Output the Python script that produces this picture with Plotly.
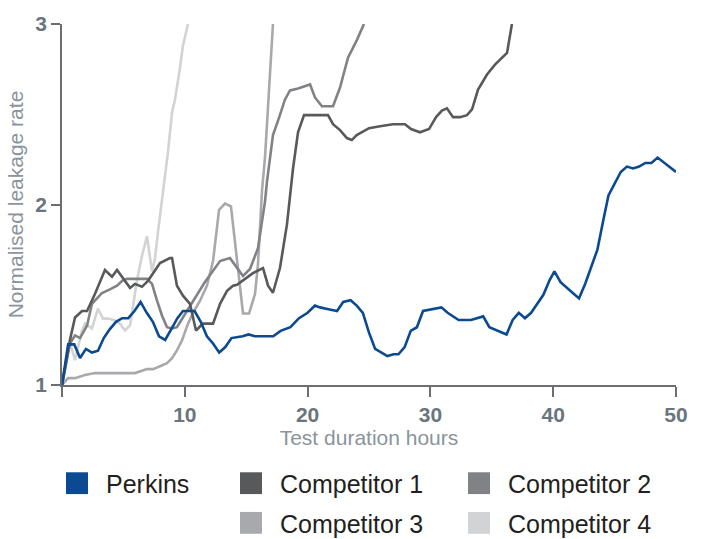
import plotly.graph_objects as go

# ---------------- data ----------------
perkins_x = [0, 0.5, 1.0, 1.47, 1.95, 2.44, 2.93, 3.4, 3.9, 4.4, 4.9, 5.4, 5.9, 6.4, 6.9,
             7.4, 7.9, 8.4, 8.9, 9.4, 9.85, 10.8, 11.3, 11.8, 12.3, 12.8, 13.3, 13.8, 14.7, 15.2,
             15.7, 17.2, 17.8, 18.6, 19.3, 20.0, 20.6, 21.0, 21.7, 22.4, 22.9, 23.5, 24.0, 24.5, 25.0,
             25.5, 26.5, 27.0, 27.4, 27.9, 28.4, 28.9, 29.4, 30.9, 31.4, 32.3, 33.3, 34.3, 34.8, 36.2,
             36.7, 37.2, 37.7, 38.2, 39.2, 39.7, 40.1, 40.6, 41.6, 42.1, 42.6, 43.6, 44.1, 44.5, 45.5,
             46.0, 46.5, 47.0, 47.5, 48.0, 48.5, 50.0]
perkins_y = [1.00, 1.225, 1.225, 1.15, 1.20, 1.18, 1.19, 1.26, 1.31, 1.35, 1.37, 1.37, 1.41, 1.46, 1.40,
             1.35, 1.27, 1.25, 1.31, 1.37, 1.41, 1.41, 1.35, 1.27, 1.23, 1.18, 1.21, 1.26, 1.27, 1.28,
             1.27, 1.27, 1.30, 1.32, 1.37, 1.40, 1.44, 1.43, 1.42, 1.41, 1.46, 1.47, 1.44, 1.40, 1.29,
             1.20, 1.16, 1.17, 1.17, 1.21, 1.30, 1.32, 1.41, 1.43, 1.40, 1.36, 1.36, 1.38, 1.32, 1.28,
             1.36, 1.40, 1.37, 1.40, 1.50, 1.58, 1.63, 1.57, 1.51, 1.48, 1.56, 1.75, 1.92, 2.05, 2.18,
             2.21, 2.20, 2.21, 2.23, 2.23, 2.26, 2.18]

comp1_x = [0, 0.65, 1.06, 1.63, 2.04, 2.69, 3.5, 4.07, 4.48, 5.54, 5.94, 6.51, 7.0, 7.98, 8.79,
           8.96, 9.36, 9.85, 10.42, 10.91, 11.48, 12.3, 12.87, 13.44, 13.93, 14.25, 15.55, 16.37, 16.78, 17.18,
           17.75, 18.32, 18.81, 19.22, 19.71, 20.2, 21.66, 22.07, 22.64, 23.2, 23.6, 24.0, 25.0, 25.9, 26.95,
           27.93, 28.42, 29.15, 29.89, 30.46, 30.94, 31.35, 31.84, 32.41, 32.98, 33.39, 33.88, 34.61, 35.26, 36.24,
           36.64]
comp1_y = [1.0, 1.25, 1.374, 1.41, 1.41, 1.505, 1.637, 1.60, 1.637, 1.538, 1.56, 1.544, 1.577, 1.676, 1.703,
           1.703, 1.55, 1.495, 1.45, 1.302, 1.34, 1.34, 1.45, 1.522, 1.55, 1.555, 1.62, 1.648, 1.55, 1.511,
           1.648, 1.89, 2.198, 2.40, 2.495, 2.495, 2.495, 2.445, 2.412, 2.368, 2.357, 2.385, 2.423, 2.434, 2.445,
           2.445, 2.418, 2.40, 2.418, 2.484, 2.52, 2.533, 2.484, 2.484, 2.495, 2.527, 2.637, 2.72, 2.775, 2.84,
           3.0]

comp2_x = [0, 0.65, 1.06, 1.47, 2.04, 2.44, 2.85, 3.26, 3.9, 4.48, 4.9, 5.3, 6.92, 7.33, 7.74,
           8.14, 8.55, 8.96, 9.36, 9.85, 10.6, 11.24, 11.6, 12.87, 13.68, 14.74, 15.31, 15.96, 16.53, 16.69,
           17.18, 17.67, 18.16, 18.57, 19.22, 20.2, 20.6, 21.17, 22.07, 22.64, 23.29, 24.02, 24.59]
comp2_y = [1.0, 1.23, 1.275, 1.26, 1.33, 1.45, 1.48, 1.51, 1.53, 1.55, 1.577, 1.588, 1.588, 1.56, 1.467,
           1.385, 1.32, 1.313, 1.32, 1.374, 1.45, 1.52, 1.566, 1.687, 1.703, 1.604, 1.643, 1.758, 2.016, 2.126,
           2.385, 2.48, 2.582, 2.632, 2.643, 2.665, 2.593, 2.544, 2.544, 2.648, 2.813, 2.912, 3.0]

comp3_x = [0, 0.49, 1.06, 1.87, 2.69, 5.94, 6.92, 7.41, 7.98, 8.55, 8.96, 9.36, 9.77, 10.26, 10.67,
           11.24, 11.8, 12.3, 12.79, 13.27, 13.76, 14.25, 14.74, 15.23, 15.72, 15.96, 16.29, 16.53, 16.78, 17.18]
comp3_y = [1.0, 1.038, 1.038, 1.055, 1.066, 1.066, 1.088, 1.088, 1.104, 1.121, 1.148, 1.192, 1.247, 1.34, 1.40,
           1.467, 1.55, 1.687, 1.97, 2.005, 1.99, 1.70, 1.396, 1.396, 1.505, 1.67, 2.08, 2.26, 2.55, 3.0]

comp4_x = [0, 0.65, 1.06, 1.63, 1.87, 2.44, 2.93, 3.34, 3.75, 4.32, 4.72, 5.13, 5.54, 6.1, 6.51,
           6.92, 7.33, 7.57, 7.82, 8.14, 8.63, 8.96, 9.2, 9.61, 9.85, 10.26]
comp4_y = [1.0, 1.236, 1.137, 1.302, 1.34, 1.313, 1.423, 1.368, 1.368, 1.357, 1.34, 1.302, 1.33, 1.577, 1.714,
           1.824, 1.63, 1.70, 1.85, 2.02, 2.29, 2.51, 2.58, 2.758, 2.879, 3.0]

series_names = ["Perkins", "Competitor 1", "Competitor 2", "Competitor 3", "Competitor 4"]
series_colors = ["#0b4a91", "#58595b", "#808285", "#a7a9ac", "#d1d3d4"]
series_x = [perkins_x, comp1_x, comp2_x, comp3_x, comp4_x]
series_y = [perkins_y, comp1_y, comp2_y, comp3_y, comp4_y]

x_tickvals = [0, 10, 20, 30, 40, 50]
x_ticktext = ["", "10", "20", "30", "40", "50"]
y_tickvals = [1, 2, 3]

# ---------------- figure ----------------
W, H = 702, 539
ML, MR, MT, MB = 62, 26, 21, 154
PW, PH = W - ML - MR, H - MT - MB


def px_x(px):
    return (px - ML) / PW


def px_y(py):
    return (H - MB - py) / PH


fig = go.Figure()
# draw lightest first so Perkins sits on top
for i in reversed(range(len(series_names))):
    fig.add_trace(go.Scatter(
        x=series_x[i], y=series_y[i], mode="lines", name=series_names[i],
        line=dict(color=series_colors[i], width=2.6), showlegend=False,
        hoverinfo="skip"))

# custom legend (square swatch + text), positions in pixels
legend_slots = [(66, 484), (240, 484), (468, 484), (240, 524), (468, 524)]
sw = 22
shapes, annotations = [], []
for (lx, ly), name, color in zip(legend_slots, series_names, series_colors):
    shapes.append(dict(type="rect", xref="paper", yref="paper",
                       x0=px_x(lx), x1=px_x(lx + sw), y0=px_y(ly + sw / 2), y1=px_y(ly - sw / 2),
                       fillcolor=color, line=dict(width=0), layer="above"))
    annotations.append(dict(xref="paper", yref="paper", x=px_x(lx + 38), y=px_y(ly + 1),
                            xanchor="left", yanchor="middle", showarrow=False, text=name,
                            font=dict(family="Liberation Sans, Arial, sans-serif", size=25, color="#231f20")))

axis_col = "#6d6e71"
tick_font = dict(family="Liberation Sans, Arial, sans-serif", size=21, color="#6b757d", weight="bold")
title_font = dict(family="Liberation Sans, Arial, sans-serif", size=21, color="#8a949c")

fig.update_layout(
    width=W, height=H,
    margin=dict(l=ML, r=MR, t=MT, b=MB),
    plot_bgcolor="white", paper_bgcolor="white",
    shapes=shapes, annotations=annotations,
    xaxis=dict(range=[0, 50], tickvals=x_tickvals, ticktext=x_ticktext,
               showgrid=False, zeroline=False, showline=True, linecolor=axis_col, linewidth=1.6,
               ticks="outside", ticklen=10, tickwidth=1.5, tickcolor=axis_col,
               tickfont=tick_font, ticklabelstandoff=0,
               title=dict(text="Test duration hours", font=title_font, standoff=4)),
    yaxis=dict(range=[1, 3], tickvals=y_tickvals,
               showgrid=False, zeroline=False, showline=True, linecolor=axis_col, linewidth=1.6,
               ticks="outside", ticklen=9, tickwidth=1.5, tickcolor=axis_col,
               tickfont=tick_font,
               title=dict(text="Normalised leakage rate", font=title_font, standoff=6)),
)

fig.write_html("out.html", config={"displayModeBar": False},
               post_script="document.body.style.margin='0';")
